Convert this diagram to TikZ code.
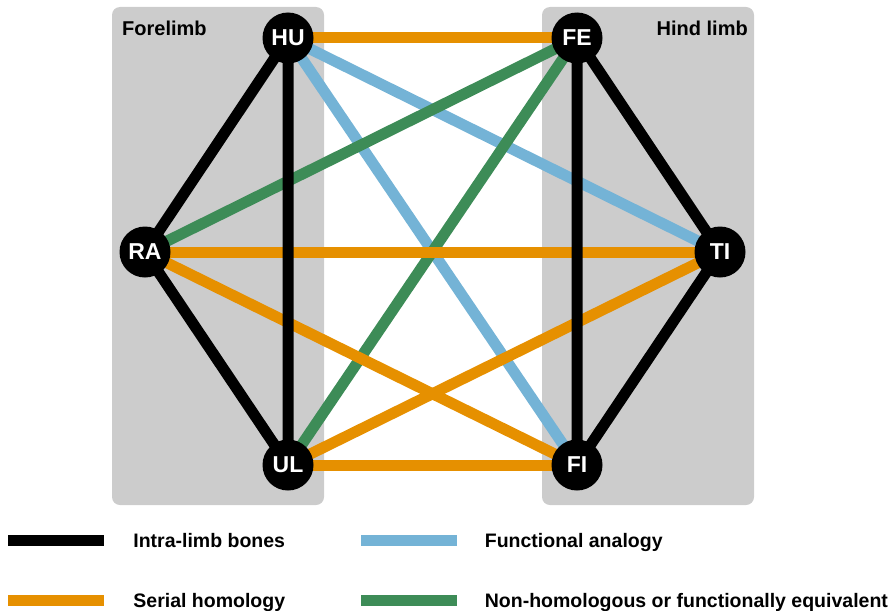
\documentclass[tikz,border=0pt]{standalone}
\usepackage{fontspec}
\setmainfont{Liberation Sans}
\usetikzlibrary{positioning}
\definecolor{limbgray}{HTML}{CCCCCC}
\definecolor{serialc}{HTML}{E69000}
\definecolor{analogc}{HTML}{74B3D6}
\definecolor{nonhomc}{HTML}{3D8C57}
\pgfdeclarelayer{boxes}
\pgfdeclarelayer{edges}
\pgfsetlayers{boxes,edges,main}

\begin{document}
\begin{tikzpicture}[x=1pt, y=-1pt,
  limb/.style={fill=limbgray, rounded corners=8pt, minimum width=212pt, minimum height=498pt, inner sep=0pt},
  limblabel/.style={font=\fontsize{20}{20}\selectfont\bfseries, inner sep=0pt},
  bone/.style={circle, fill=black, text=white, minimum size=51pt, inner sep=0pt, font=\fontsize{23}{23}\selectfont\bfseries},
  link/.style={line width=11pt},
  legbar/.style={minimum width=96pt, minimum height=11pt, inner sep=0pt},
  legtext/.style={anchor=west, inner sep=0pt, text height=14pt, text depth=0pt, font=\fontsize{19.5}{19.5}\selectfont\bfseries}
]
\useasboundingbox (0,0) rectangle (893,610);

% limb panels
\begin{pgfonlayer}{boxes}
\node[limb] (fore) at (218,256) {};
\node[limb] (hind) at (648,256) {};
\end{pgfonlayer}
\node[limblabel, anchor=base west] (forelbl) at (122,36) {Forelimb};
\node[limblabel, anchor=base east] (hindlbl) at (748,36) {Hind limb};

% bones
\node[bone] (HU) at (288,38) {HU};
\node[bone] (RA) at (145,252) {RA};
\node[bone] (UL) at (288,465) {UL};
\node[bone] (FE) at (577,38) {FE};
\node[bone] (TI) at (720,252) {TI};
\node[bone] (FI) at (577,465) {FI};

% connections
\begin{pgfonlayer}{edges}
\draw[link, analogc] (HU.center) -- (TI.center);
\draw[link, analogc] (HU.center) -- (FI.center);
\draw[link, nonhomc] (RA.center) -- (FE.center);
\draw[link, nonhomc] (UL.center) -- (FE.center);
\draw[link, serialc] (HU.center) -- (FE.center);
\draw[link, serialc] (RA.center) -- (TI.center);
\draw[link, serialc] (RA.center) -- (FI.center);
\draw[link, serialc] (UL.center) -- (TI.center);
\draw[link, serialc] (UL.center) -- (FI.center);
\draw[link, black] (HU.center) -- (RA.center) -- (UL.center) -- (HU.center);
\draw[link, black] (FE.center) -- (TI.center) -- (FI.center) -- (FE.center);
\end{pgfonlayer}

% legend
\node[legbar, fill=black] (kintra) at (56,540) {};
\node[legtext, right=29pt of kintra] (tintra) {Intra-limb bones};
\node[legbar, fill=analogc] (kanalog) at (408.5,540) {};
\node[legtext, right=28pt of kanalog] (tanalog) {Functional analogy};
\node[legbar, fill=serialc] (kserial) at (56,600) {};
\node[legtext, right=29pt of kserial] (tserial) {Serial homology};
\node[legbar, fill=nonhomc] (knonhom) at (408.5,600) {};
\node[legtext, right=28pt of knonhom] (tnonhom) {Non-homologous or functionally equivalent};
\end{tikzpicture}
\end{document}
